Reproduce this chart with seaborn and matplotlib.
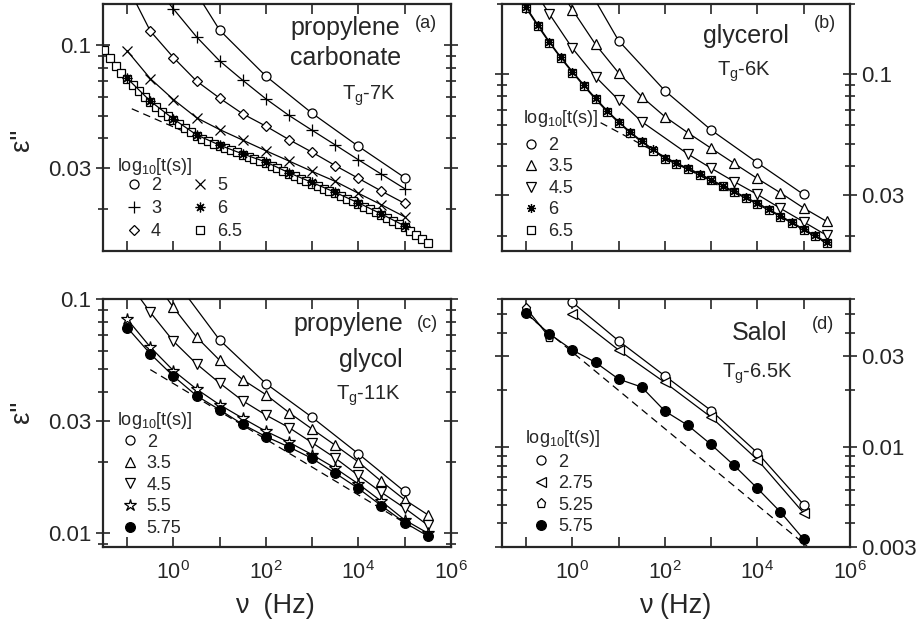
import numpy as np
import matplotlib
matplotlib.use("Agg")
import matplotlib.pyplot as plt
import seaborn as sns
from matplotlib.lines import Line2D
from matplotlib.ticker import FixedLocator, LogLocator, NullFormatter, NullLocator, FuncFormatter

# ---- (a) propylene carbonate, Tg-7K : log10(nu) and eps'' ----
pc_lognu_2 = [0, 1, 2, 3, 4, 5]
pc_eps_2 = [0.24, 0.116, 0.0738, 0.0512, 0.037, 0.0272]
pc_lognu_3 = [-0.5, 0, 0.5, 1, 1.5, 2, 2.5, 3, 3.5, 4, 4.5, 5]
pc_eps_3 = [0.19, 0.143, 0.1086, 0.0857, 0.0708, 0.059, 0.0501, 0.0433, 0.0375, 0.0324, 0.0281, 0.0244]
pc_lognu_4 = [-1, -0.5, 0, 0.5, 1, 1.5, 2, 2.5, 3, 3.5, 4, 4.5, 5]
pc_eps_4 = [0.18, 0.115, 0.0886, 0.0703, 0.0594, 0.0509, 0.0451, 0.0395, 0.0349, 0.0306, 0.027, 0.0238, 0.0211]
pc_eps_5 = [0.0946, 0.072, 0.0586, 0.049, 0.0436, 0.0393, 0.0354, 0.032, 0.0289, 0.0262, 0.0233, 0.0208, 0.0185]
pc_eps_6 = [0.0722, 0.0577, 0.0484, 0.0414, 0.0374, 0.0343, 0.0317, 0.0285, 0.0259, 0.0235, 0.0212, 0.019, 0.0169]
pc_lognu_65 = [-1.5, -1.375, -1.25, -1.125, -1.0, -0.875, -0.75, -0.625, -0.5, -0.375, -0.25, -0.125,
               0.0, 0.125, 0.25, 0.375, 0.5, 0.625, 0.75, 0.875, 1.0, 1.125, 1.25, 1.375, 1.5, 1.625,
               1.75, 1.875, 2.0, 2.125, 2.25, 2.375, 2.5, 2.625, 2.75, 2.875, 3.0, 3.125, 3.25, 3.375,
               3.5, 3.625, 3.75, 3.875, 4.0, 4.125, 4.25, 4.375, 4.5, 4.625, 4.75, 4.875, 5.0, 5.125,
               5.25, 5.375, 5.5]
pc_eps_65 = [0.0955, 0.0881, 0.0817, 0.0762, 0.0715, 0.0673, 0.0635, 0.0601, 0.0571, 0.0545, 0.0520, 0.0498,
             0.0479, 0.0459, 0.0442, 0.0425, 0.0410, 0.0398, 0.0388, 0.0378, 0.0370, 0.0362, 0.0355, 0.0348,
             0.0340, 0.0333, 0.0327, 0.0321, 0.0314, 0.0306, 0.0298, 0.0290, 0.0282, 0.0275, 0.0269, 0.0262,
             0.0256, 0.0250, 0.0244, 0.0239, 0.0233, 0.0227, 0.0221, 0.0215, 0.0210, 0.0204, 0.0199, 0.0194,
             0.0188, 0.0183, 0.0178, 0.0173, 0.0167, 0.0161, 0.0155, 0.0149, 0.0143]
pc_fit_lognu = [-0.9, 5.2]
pc_fit_eps = [0.0535, 0.0160]

# ---- (b) glycerol, Tg-6K ----
gl_lognu_2 = [0, 1, 2, 3, 4, 5]
gl_eps_2 = [0.307, 0.139, 0.0847, 0.0574, 0.0415, 0.0303]
gl_lognu_35 = [-0.5, 0, 0.5, 1, 1.5, 2, 2.5, 3, 3.5, 4, 4.5, 5, 5.5]
gl_eps_35 = [0.27, 0.189, 0.134, 0.101, 0.0798, 0.0655, 0.0558, 0.0479, 0.0412, 0.0355, 0.0308, 0.0265, 0.0232]
gl_lognu_45 = [-1, -0.5, 0, 0.5, 1, 1.5, 2.5, 3, 3.5, 4, 4.5, 5, 5.5]
gl_eps_45 = [0.26, 0.1815, 0.129, 0.0973, 0.0772, 0.0623, 0.0452, 0.0393, 0.0344, 0.0303, 0.0264, 0.0231, 0.0202]
gl_lognu_6 = [-1.0, -0.75, -0.5, -0.25, 0.0, 0.25, 0.5, 0.75, 1.0, 1.25, 1.5, 1.75, 2.0, 2.25,
              2.5, 2.75, 3.0, 3.25, 3.5, 3.75, 4.0, 4.25, 4.5, 4.75, 5.0, 5.25, 5.5]
gl_eps_65 = [0.192, 0.161, 0.1365, 0.117, 0.1014, 0.0887, 0.0778, 0.0689, 0.0617, 0.0558, 0.0509, 0.0468,
             0.0432, 0.0409, 0.0389, 0.0368, 0.0348, 0.0328, 0.0309, 0.0292, 0.0275, 0.0259, 0.0243,
             0.0228, 0.0213, 0.0200, 0.0187]
gl_eps_6 = [0.194, 0.163, 0.1378, 0.118, 0.1024, 0.0896, 0.0786, 0.0696, 0.0623, 0.0563, 0.0514, 0.0473,
            0.0436, 0.0413, 0.0393, 0.0372, 0.0351, 0.0331, 0.0312, 0.0295, 0.0278, 0.0262, 0.0245,
            0.0230, 0.0215, 0.0202, 0.0189]
gl_fit_lognu = [0.61, 5.5]
gl_fit_eps = [0.0617, 0.0187]

# ---- (c) propylene glycol, Tg-11K ----
pg_lognu_2 = [0, 1, 2, 3, 4, 5]
pg_eps_2 = [0.123, 0.0668, 0.0435, 0.0312, 0.0218, 0.01503]
pg_lognu_35 = [-0.5, 0, 0.5, 1, 1.5, 2, 2.5, 3, 3.5, 4, 4.5, 5, 5.5]
pg_eps_35 = [0.127, 0.092, 0.0688, 0.0547, 0.0452, 0.039, 0.0327, 0.0278, 0.0237, 0.0201, 0.0166, 0.01387, 0.01196]
pg_lognu = [-1, -0.5, 0, 0.5, 1, 1.5, 2, 2.5, 3, 3.5, 4, 4.5, 5, 5.5]
pg_eps_45 = [0.12, 0.0877, 0.066, 0.0528, 0.0437, 0.0367, 0.0319, 0.0282, 0.0243, 0.0209, 0.0176, 0.0149, 0.01277, 0.0108]
pg_eps_55 = [0.082, 0.0623, 0.0494, 0.0412, 0.0353, 0.0309, 0.0272, 0.0244, 0.0216, 0.0189, 0.0162, 0.01364, 0.01137, 0.00998]
pg_eps_575 = [0.0755, 0.0583, 0.0468, 0.0386, 0.0336, 0.0291, 0.0258, 0.0233, 0.0208, 0.018, 0.0155, 0.01306, 0.01107, 0.0097]
pg_fit_lognu = [-0.5, 5.15]
pg_fit_eps = [0.0499, 0.0106]

# ---- (d) Salol, Tg-6.5K ----
sa_lognu_2 = [0, 1, 2, 3, 4, 5]
sa_eps_2 = [0.0577, 0.0362, 0.0237, 0.0156, 0.00937, 0.00501]
sa_eps_275 = [0.0501, 0.0324, 0.0219, 0.0144, 0.00863, 0.00453]
sa_lognu_525 = [-1, -0.5]
sa_eps_525 = [0.0538, 0.0378]
sa_lognu_575 = [-1, -0.5, 0, 0.5, 1, 1.5, 2, 2.5, 3, 3.5, 4, 4.5, 5]
sa_eps_575 = [0.0507, 0.0394, 0.0324, 0.0279, 0.0228, 0.0207, 0.0155, 0.01303, 0.01035, 0.00803, 0.0061, 0.00458, 0.0033]
sa_fit_lognu = [-1, 5.13]
sa_fit_eps = [0.0501, 0.00295]

ASTER = (8, 2, 0)

sns.set_style("ticks")
plt.rcParams["font.family"] = ["Liberation Sans", "DejaVu Sans"]
plt.rcParams["mathtext.fontset"] = "custom"
plt.rcParams["mathtext.rm"] = "Liberation Sans"
plt.rcParams["mathtext.it"] = "Liberation Sans:italic"
plt.rcParams["mathtext.default"] = "regular"


def curve(ax, lognu, eps, marker, ms, filled=False):
    nu = 10.0 ** np.asarray(lognu, dtype=float)
    sns.lineplot(x=nu, y=eps, ax=ax, color="black", linewidth=0.9, marker=marker,
                 markersize=ms, markerfacecolor="black" if filled else "white",
                 markeredgecolor="black", markeredgewidth=0.9, estimator=None,
                 sort=False, legend=False, zorder=3)


def fit(ax, lognu, eps):
    nu = 10.0 ** np.asarray(lognu, dtype=float)
    sns.lineplot(x=nu, y=eps, ax=ax, color="black", linewidth=0.9, linestyle=(0, (6, 4)),
                 estimator=None, sort=False, legend=False, zorder=2)


def style_axes(ax, ylim, bottom, right):
    ax.set_xscale("log")
    ax.set_yscale("log")
    ax.set_xlim(0.03, 1e6)
    ax.set_ylim(*ylim)
    ax.xaxis.set_major_locator(FixedLocator([10.0 ** k for k in range(-1, 7)]))
    ax.xaxis.set_minor_locator(NullLocator())
    ax.xaxis.set_major_formatter(FuncFormatter(
        lambda v, p: "$10^{%d}$" % round(np.log10(v)) if round(np.log10(v)) % 2 == 0 else ""))
    ax.yaxis.set_major_locator(FixedLocator([0.003, 0.01, 0.03, 0.1]))
    ax.yaxis.set_major_formatter(FuncFormatter(lambda v, p: "%g" % v))
    ax.yaxis.set_minor_locator(LogLocator(base=10, subs=range(2, 10), numticks=20))
    ax.yaxis.set_minor_formatter(NullFormatter())
    ax.tick_params(axis="x", which="major", direction="in", length=7, width=1.2,
                   top=True, bottom=True, labelbottom=bottom, labelsize=15.5, pad=10)
    ax.tick_params(axis="y", which="major", direction="inout", length=10, width=1.2,
                   left=True, right=True, labelleft=not right, labelright=right, labelsize=16)
    ax.tick_params(axis="y", which="minor", direction="inout", length=7, width=1.2,
                   left=True, right=True)
    for s in ax.spines.values():
        s.set_linewidth(1.6)
        s.set_visible(True)
    ax.set_xlabel("")
    ax.set_ylabel("")


def add_legend(ax, entries, title_pos, anchor, ncol=1, spacing=0.25):
    handles = [Line2D([], [], ls="none", marker=m, ms=s, color="black",
                      mfc="black" if f else "white", mec="black", mew=0.9)
               for m, s, f, _ in entries]
    labels = [lab for _, _, _, lab in entries]
    ax.text(title_pos[0], title_pos[1], "log$_{10}$[t(s)]", transform=ax.transAxes,
            ha="left", va="center", fontsize=13)
    leg = ax.legend(handles, labels, loc="upper left", bbox_to_anchor=anchor, ncol=ncol,
                    frameon=False, fontsize=13, handlelength=0.9, handletextpad=0.5,
                    labelspacing=spacing, columnspacing=1.7, borderpad=0, borderaxespad=0)
    return leg


def labels(ax, lines, tg, tag, tag_pos):
    for txt, x, y in lines:
        ax.text(x, y, txt, transform=ax.transAxes, ha="right", va="baseline", fontsize=18)
    ax.text(tg[1], tg[2], tg[0], transform=ax.transAxes, ha="right", va="baseline", fontsize=14.5)
    ax.text(tag_pos[0], tag_pos[1], tag, transform=ax.transAxes, ha="right", va="baseline", fontsize=13)


fig = plt.figure(figsize=(9.2, 6.25), dpi=100)
W = 0.378
ax_a = fig.add_axes([103 / 920, 1 - 251 / 625, W, 247 / 625])
ax_b = fig.add_axes([502 / 920, 1 - 251 / 625, W, 247 / 625])
ax_c = fig.add_axes([103 / 920, 1 - 547 / 625, W, 248 / 625])
ax_d = fig.add_axes([502 / 920, 1 - 547 / 625, W, 248 / 625])

# (a)
fit(ax_a, pc_fit_lognu, pc_fit_eps)
curve(ax_a, pc_lognu_2, pc_eps_2, "o", 6.5)
curve(ax_a, pc_lognu_3, pc_eps_3, "+", 8.5)
curve(ax_a, pc_lognu_4, pc_eps_4, "D", 5.5)
curve(ax_a, pc_lognu_4, pc_eps_5, "x", 7)
curve(ax_a, pc_lognu_65, pc_eps_65, "s", 6)
curve(ax_a, pc_lognu_4, pc_eps_6, ASTER, 7)
style_axes(ax_a, (0.0132, 0.15), bottom=False, right=False)
add_legend(ax_a, [("o", 6.5, False, "2"), ("+", 8.5, False, "3"), ("D", 5.5, False, "4"),
                  ("x", 7, False, "5"), (ASTER, 7, False, "6"), ("s", 6, False, "6.5")],
           (0.039, 0.341), (0.065, 0.299), ncol=2, spacing=0.33)
labels(ax_a, [("propylene", 0.856, 0.875), ("carbonate", 0.856, 0.753)],
       ("T$_g$-7K", 0.8415, 0.611), "(a)", (0.961, 0.903))

# (b)
fit(ax_b, gl_fit_lognu, gl_fit_eps)
curve(ax_b, gl_lognu_2, gl_eps_2, "o", 6.5)
curve(ax_b, gl_lognu_35, gl_eps_35, "^", 7)
curve(ax_b, gl_lognu_45, gl_eps_45, "v", 7)
curve(ax_b, gl_lognu_6, gl_eps_65, "s", 6)
curve(ax_b, gl_lognu_6, gl_eps_6, ASTER, 6.5)
style_axes(ax_b, (0.0173, 0.2), bottom=False, right=True)
add_legend(ax_b, [("o", 6.5, False, "2"), ("^", 7, False, "3.5"), ("v", 7, False, "4.5"),
                  (ASTER, 6.5, False, "6"), ("s", 6, False, "6.5")], (0.059, 0.537), (0.06, 0.462))
labels(ax_b, [("glycerol", 0.826, 0.841)], ("T$_g$-6K", 0.7735, 0.7085), "(b)", (0.961, 0.903))

# (c)
fit(ax_c, pg_fit_lognu, pg_fit_eps)
curve(ax_c, pg_lognu_2, pg_eps_2, "o", 6.5)
curve(ax_c, pg_lognu_35, pg_eps_35, "^", 7)
curve(ax_c, pg_lognu, pg_eps_45, "v", 7)
curve(ax_c, pg_lognu, pg_eps_55, "*", 9)
curve(ax_c, pg_lognu, pg_eps_575, "o", 7, filled=True)
style_axes(ax_c, (0.0087, 0.1), bottom=True, right=False)
add_legend(ax_c, [("o", 6.5, False, "2"), ("^", 7, False, "3.5"), ("v", 7, False, "4.5"),
                  ("*", 9, False, "5.5"), ("o", 7, True, "5.75")], (0.039, 0.512), (0.053, 0.4565))
labels(ax_c, [("propylene", 0.862, 0.872), ("glycol", 0.862, 0.727)],
       ("T$_g$-11K", 0.856, 0.593), "(c)", (0.963, 0.883))

# (d)
fit(ax_d, sa_fit_lognu, sa_fit_eps)
curve(ax_d, sa_lognu_2, sa_eps_2, "o", 6.5)
curve(ax_d, sa_lognu_2, sa_eps_275, "<", 7)
curve(ax_d, sa_lognu_525, sa_eps_525, "p", 6.5)
curve(ax_d, sa_lognu_575, sa_eps_575, "o", 7, filled=True)
style_axes(ax_d, (0.003, 0.06), bottom=True, right=True)
add_legend(ax_d, [("o", 6.5, False, "2"), ("<", 7, False, "2.75"), ("p", 6.5, False, "5.25"),
                  ("o", 7, True, "5.75")], (0.066, 0.438), (0.09, 0.377))
labels(ax_d, [("Salol", 0.8195, 0.835)], ("T$_g$-6.5K", 0.8355, 0.684), "(d)", (0.9555, 0.878))

# axis titles
fig.text(22 / 920, 1 - 140 / 625, "\u03b5\"", fontsize=20, rotation=90, ha="center", va="center")
fig.text(22 / 920, 1 - 412 / 625, "\u03b5\"", fontsize=20, rotation=90, ha="center", va="center")
fig.text(275 / 920, 1 - 606 / 625, "\u03bd  (Hz)", fontsize=19.5, ha="center", va="center")
fig.text(675 / 920, 1 - 606 / 625, "\u03bd (Hz)", fontsize=19.5, ha="center", va="center")

fig.savefig("out.png", dpi=100)
